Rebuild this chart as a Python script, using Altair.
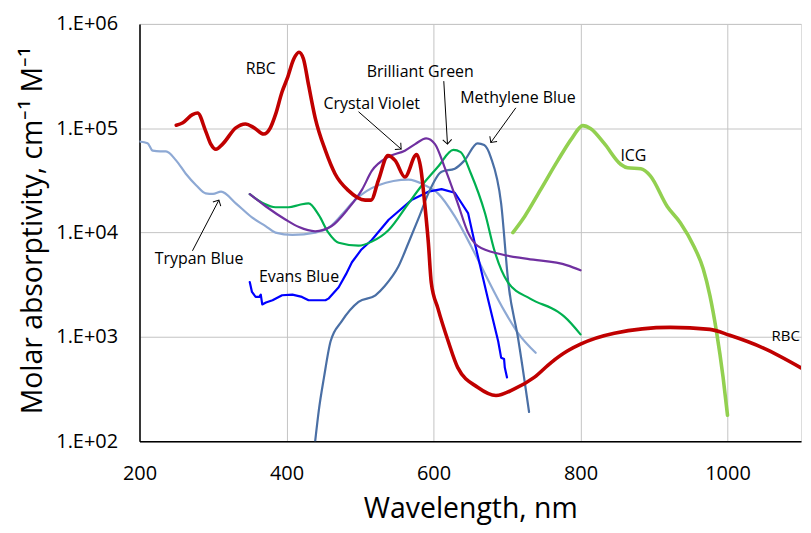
import math
import altair as alt
import pandas as pd

W, H = 664, 419

# ---------------- data (wavelength nm, molar absorptivity) ----------------
rbc_nm = [250, 259, 272, 279, 290, 297, 304, 313, 331, 344, 356, 369, 378, 385, 394, 401, 410, 417, 423, 430,
          439, 453, 466, 484, 507, 515, 525, 538, 548, 561, 577, 583, 588, 593, 597, 606, 620, 633, 660, 685,
          710, 737, 760, 782, 800, 846, 922, 976, 1003, 1049, 1100]
rbc_val = [1.07e5, 1.13e5, 1.35e5, 1.40e5, 9.4e4, 7.05e4, 6.3e4, 7.05e4, 1.01e5, 1.10e5, 1.01e5, 8.8e4, 1.01e5,
           1.35e5, 2.24e5, 3.0e5, 4.64e5, 5.36e5, 4.64e5, 2.6e5, 1.26e5, 6.1e4, 3.67e4, 2.54e4, 2.05e4, 2.05e4,
           3.17e4, 5.47e4, 4.9e4, 3.41e4, 5.6e4, 4.0e4, 1.91e4, 8.0e3, 3.3e3, 1.88e3, 910, 509, 330, 275,
           318, 410, 569, 733, 853, 1084, 1236, 1183, 1038, 782, 506]

trypan_nm = [200, 211, 218, 228, 236, 250, 263, 277, 290, 300, 311, 331, 353, 372, 385, 408, 439, 457, 475, 493,
             525, 566, 588, 606, 629, 651, 669, 697, 715, 739]
trypan_val = [7.47e4, 7.2e4, 6.1e4, 6.0e4, 6.0e4, 4.9e4, 3.67e4, 2.85e4, 2.38e4, 2.35e4, 2.47e4, 1.91e4, 1.40e4,
              1.15e4, 1.0e4, 9.5e3, 1.0e4, 1.11e4, 1.48e4, 2.05e4, 2.85e4, 3.22e4, 2.85e4, 2.38e4, 1.43e4,
              7.46e3, 4.17e3, 1.75e3, 1.09e3, 706]

cv_nm = [350, 372, 399, 417, 439, 461, 484, 503, 516, 538, 561, 575, 590, 602, 615, 633, 647, 660, 692, 728, 782, 800]
cv_val = [2.34e4, 1.78e4, 1.33e4, 1.13e4, 1.03e4, 1.15e4, 1.7e4, 2.6e4, 3.9e4, 5.3e4, 6.1e4, 7.05e4, 8.0e4,
          7.05e4, 4.25e4, 1.91e4, 1.0e4, 7.46e3, 6.2e3, 5.6e3, 4.86e3, 4.36e3]

bg_nm = [350, 369, 385, 403, 418, 430, 444, 457, 471, 498, 516, 539, 566, 583, 606, 627, 637, 651, 670, 683,
         701, 732, 769, 778, 800]
bg_val = [2.34e4, 1.9e4, 1.75e4, 1.75e4, 1.85e4, 1.91e4, 1.47e4, 1.0e4, 8.0e3, 7.5e3, 8.2e3, 1.06e4, 1.91e4,
          2.77e4, 4.27e4, 6.2e4, 5.9e4, 3.67e4, 1.54e4, 6.7e3, 3.36e3, 2.32e3, 1.75e3, 1.57e3, 1.06e3]

mb_nm = [439, 444, 451, 460, 475, 498, 521, 534, 552, 566, 581, 593, 611, 629, 642, 660, 669, 678, 692, 702, 715, 730]
mb_val = [100, 199, 410, 910, 1.41e3, 2.17e3, 2.51e3, 3.1e3, 4.7e3, 8.0e3, 1.45e4, 2.38e4, 3.84e4, 4.1e4,
          4.9e4, 7.16e4, 6.9e4, 5.27e4, 1.91e4, 3.2e3, 979, 191]

eb_nm = [350, 353, 358, 363, 365, 367, 372, 381, 394, 408, 421, 430, 442, 453, 457, 471, 481, 489, 502, 516,
         539, 570, 593, 611, 629, 647, 656, 674, 688, 692, 696, 697, 700]
eb_val = [3.36e3, 2.7e3, 2.42e3, 2.42e3, 2.55e3, 2.05e3, 2.14e3, 2.25e3, 2.51e3, 2.55e3, 2.42e3, 2.25e3,
          2.25e3, 2.25e3, 2.33e3, 3.0e3, 4.0e3, 5.2e3, 6.9e3, 8.5e3, 1.33e4, 2.05e4, 2.47e4, 2.61e4, 2.41e4,
          1.54e4, 8.0e3, 2.33e3, 910, 634, 615, 509, 410]

icg_nm = [708, 724, 746, 769, 789, 803, 814, 832, 855, 864, 882, 895, 918, 936, 954, 967, 976, 985, 994, 1000]
icg_val = [1.0e4, 1.43e4, 2.6e4, 4.9e4, 8.15e4, 1.06e5, 9.9e4, 7.2e4, 4.5e4, 4.18e4, 4.09e4, 3.5e4, 1.78e4,
           1.24e4, 7.46e3, 4.49e3, 2.51e3, 1.13e3, 410, 178]

# annotation labels
label_text = ["RBC", "Crystal Violet", "Brilliant Green", "Methylene Blue", "ICG", "Trypan Blue", "Evans Blue", "RBC"]
label_nm = [365, 516, 582, 715, 872, 281, 417, 1060]
label_val = [3.68e5, 1.70e5, 3.47e5, 1.94e5, 5.37e4, 5.6e3, 3.74e3, 1.02e3]
label_align = ["center", "center", "center", "center", "center", "center", "center", "left"]

# arrows (start -> end)
arrow_x0 = [498, 614, 712, 272]
arrow_y0 = [1.44e5, 2.83e5, 1.57e5, 6.69e3]
arrow_x1 = [556, 619, 678, 308]
arrow_y1 = [6.32e4, 7.05e4, 7.31e4, 2.05e4]

# ---------------- build ----------------
FONT = "Open Sans"
XDOM = [200, 1100]
YDOM = [100, 1e6]

xscale = alt.Scale(domain=XDOM, nice=False, zero=False)
yscale = alt.Scale(type="log", domain=YDOM, nice=False)

xaxis = alt.Axis(values=[200, 400, 600, 800, 1000], format="d", title="Wavelength, nm", grid=True,
                 gridColor="#C4C4C4", gridWidth=1, ticks=False, domain=True, domainColor="#000000",
                 domainWidth=1.5, labelFont=FONT, labelFontSize=20, labelColor="#000000", labelPadding=22,
                 labelOverlap=False, labelFlush=False, labelBound=False,
                 titleFont=FONT, titleFontSize=28.5, titleFontWeight="normal", titleColor="#000000",
                 titleX=332, titleY=76, titleBaseline="alphabetic", titleAlign="center")
yaxis = alt.Axis(values=[100, 1000, 10000, 100000, 1000000],
                 labelExpr="'1.E+0' + round(log(datum.value) / LN10)",
                 title="Molar absorptivity, cm\u207b\u00b9 M\u207b\u00b9", grid=True, gridColor="#C4C4C4",
                 gridWidth=1, ticks=False, domain=True, domainColor="#000000", domainWidth=1.5,
                 labelFont=FONT, labelFontSize=20, labelColor="#000000", labelPadding=22,
                 labelOverlap=False, labelFlush=False, labelBound=False,
                 titleFont=FONT, titleFontSize=28.5, titleFontWeight="normal", titleColor="#000000",
                 titleX=-98, titleY=207, titleAngle=270, titleBaseline="alphabetic", titleAlign="center")


def X(field):
    return alt.X(field, scale=xscale, axis=xaxis)


def Y(field):
    return alt.Y(field, scale=yscale, axis=yaxis)


series = [
    ("Trypan Blue", trypan_nm, trypan_val, "#8EA9D4", 2.2, "monotone"),
    ("Evans Blue", eb_nm, eb_val, "#0000FF", 2.2, "linear"),
    ("Methylene Blue", mb_nm, mb_val, "#4A6FA5", 2.2, "monotone"),
    ("Brilliant Green", bg_nm, bg_val, "#00B050", 2.2, "monotone"),
    ("Crystal Violet", cv_nm, cv_val, "#7030A0", 2.2, "monotone"),
    ("ICG", icg_nm, icg_val, "#92D050", 3.6, "monotone"),
    ("RBC", rbc_nm, rbc_val, "#C00000", 3.6, "monotone"),
]

layers = []
for i, (name, xs, ys, col, sw, interp) in enumerate(series):
    d = pd.DataFrame({"nm": xs, "val": ys, "series": name})
    d["order"] = range(len(d))
    layer = alt.Chart(d).mark_line(color=col, strokeWidth=sw, interpolate=interp, clip=True,
                                   strokeCap="round", strokeJoin="round").encode(
        x=X("nm:Q"), y=Y("val:Q"), order="order:Q",
    )
    layers.append(layer)


def px(nm):
    return (nm - XDOM[0]) / (XDOM[1] - XDOM[0]) * W


def py(v):
    return (math.log10(YDOM[1]) - math.log10(v)) / (math.log10(YDOM[1]) - math.log10(YDOM[0])) * H


angles = []
for a, b, c, d_ in zip(arrow_x0, arrow_y0, arrow_x1, arrow_y1):
    dx = px(c) - px(a)
    dy = py(d_) - py(b)
    ang = math.degrees(math.atan2(dx, -dy)) % 360
    angles.append(ang)

arrows = pd.DataFrame({"nm": arrow_x0, "val": arrow_y0, "nm2": arrow_x1, "val2": arrow_y1, "ang": angles})

rules = alt.Chart(arrows).mark_rule(color="#000000", strokeWidth=1).encode(
    x=X("nm:Q"), y=Y("val:Q"), x2="nm2:Q", y2="val2:Q")
heads = alt.Chart(arrows).mark_point(shape="M -1 1 L 0 0 L 1 1", filled=False, color="#000000",
                                     strokeWidth=1, size=80, opacity=1).encode(
    x=X("nm2:Q"), y=Y("val2:Q"), angle=alt.Angle("ang:Q", scale=None))

labels = pd.DataFrame({"nm": label_nm, "val": label_val, "text": label_text, "align": label_align})
text_c = alt.Chart(labels[labels["align"] == "center"]).mark_text(
    font=FONT, fontSize=16, color="#000000", align="center", baseline="middle").encode(
    x=X("nm:Q"), y=Y("val:Q"), text="text:N")
text_l = alt.Chart(labels[labels["align"] == "left"]).mark_text(
    font=FONT, fontSize=15, color="#000000", align="left", baseline="middle").encode(
    x=X("nm:Q"), y=Y("val:Q"), text="text:N")

chart = alt.layer(*layers, rules, heads, text_c, text_l).properties(
    width=W, height=H,
    autosize=alt.AutoSizeParams(type="none"),
    padding={"left": 132, "top": 15, "right": 2, "bottom": 85},
).configure_view(stroke="transparent", strokeWidth=0).configure(background="#FFFFFF")

chart.save("out.html", embed_options={"renderer": "svg", "actions": False})
